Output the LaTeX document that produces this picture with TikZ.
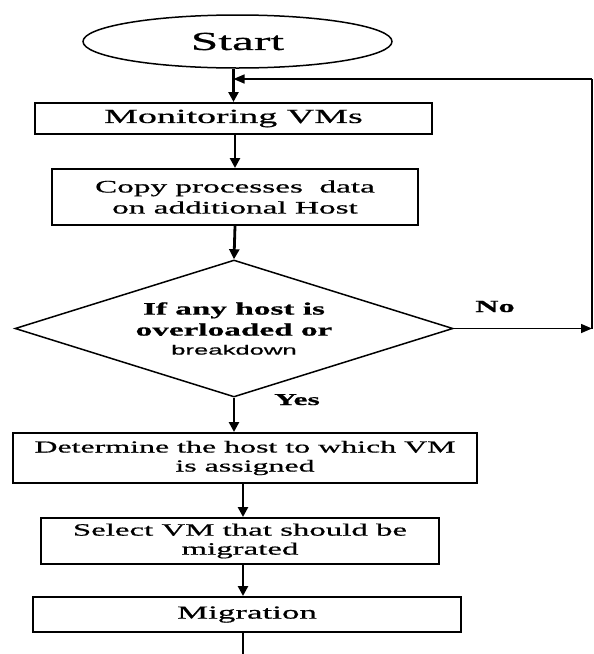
\documentclass[tikz,border=0pt]{standalone}
\usepackage{fontspec}
\setmainfont{Liberation Serif}[FakeStretch=1.9, FakeBold=0.7]
\newfontfamily\bdfont{Liberation Sans}[FakeStretch=1.9, FakeBold=0.7]
\usetikzlibrary{shapes.geometric,arrows.meta,calc}
\begin{document}
\begin{tikzpicture}[x=1pt,y=-1pt,
  box/.style={draw, line width=2pt, rectangle, inner sep=0pt, align=center},
  flow/.style={line width=2.8pt, -{Triangle[length=10pt,width=10pt]}},
  thin/.style={line width=1.5pt},
  thinarrow/.style={line width=1.5pt, -{Triangle[length=11pt,width=9pt]}}]
\useasboundingbox[fill=white] (0,0) rectangle (594,654);
\node[draw, ellipse, line width=1.5pt, minimum width=309pt, minimum height=53pt, inner sep=0pt,
  font=\fontsize{26}{30}\selectfont] (start) at (237.5,41.5) {Start};
\node[box, minimum width=397pt, minimum height=31pt, font=\fontsize{20}{22}\selectfont] (mon) at (233.5,118.5) {Monitoring VMs};
\node[box, minimum width=366pt, minimum height=56pt, font=\fontsize{17.5}{21}\selectfont] (copy) at (235,197) {Copy processes\ \ data\\on additional Host};
\node[draw, diamond, line width=1.5pt, aspect=3.2, minimum width=438pt, minimum height=137pt, inner sep=0pt, align=center,
  font=\bfseries\fontsize{17.5}{21}\selectfont] (dec) at (234,328.5) {If any host is\\overloaded or\\[-2pt]{\bdfont\mdseries\fontsize{13.5}{15}\selectfont breakdown}};
\node[box, minimum width=464pt, minimum height=50pt, font=\fontsize{16.8}{19}\selectfont] (det) at (245,458) {Determine the host to which VM\\is assigned};
\node[box, minimum width=398pt, minimum height=46pt, font=\fontsize{17.3}{19}\selectfont] (sel) at (240,541) {Select VM that should be\\migrated};
\node[box, minimum width=428pt, minimum height=35pt, font=\fontsize{18.4}{20}\selectfont] (mig) at (247,614.5) {Migration};
\coordinate (noend) at (592,328.5);
\coordinate (corner) at (592,79);
\coordinate (join) at (233.5,79);
\coordinate (bottom) at (243,654);
\draw[flow] (start.south -| mon.north) -- (mon.north);
\draw[flow] (mon.south) -- (copy.south |- mon.south) -- (copy.north);
\draw[flow] (copy.south) -- (dec.north);
\draw[flow] (dec.south) -- (dec.south |- det.north);
\draw[flow] ([xshift=-2pt]det.south) -- ([xshift=-2pt]det.south |- sel.north);
\draw[flow] ([xshift=3pt]sel.south) -- ([xshift=3pt]sel.south |- mig.north);
\draw[line width=2.8pt] ([xshift=-4pt]mig.south) -- (bottom);
\draw[thinarrow] (dec.east) -- (noend);
\draw[thin] (noend) -- (corner);
\draw[thinarrow] (corner) -- (join);
\node[font=\bfseries\fontsize{17}{19}\selectfont, anchor=base] (no) at (495,312) {No};
\node[font=\bfseries\fontsize{16.6}{19}\selectfont, anchor=base] (yes) at (297,405) {Yes};
\end{tikzpicture}
\end{document}
